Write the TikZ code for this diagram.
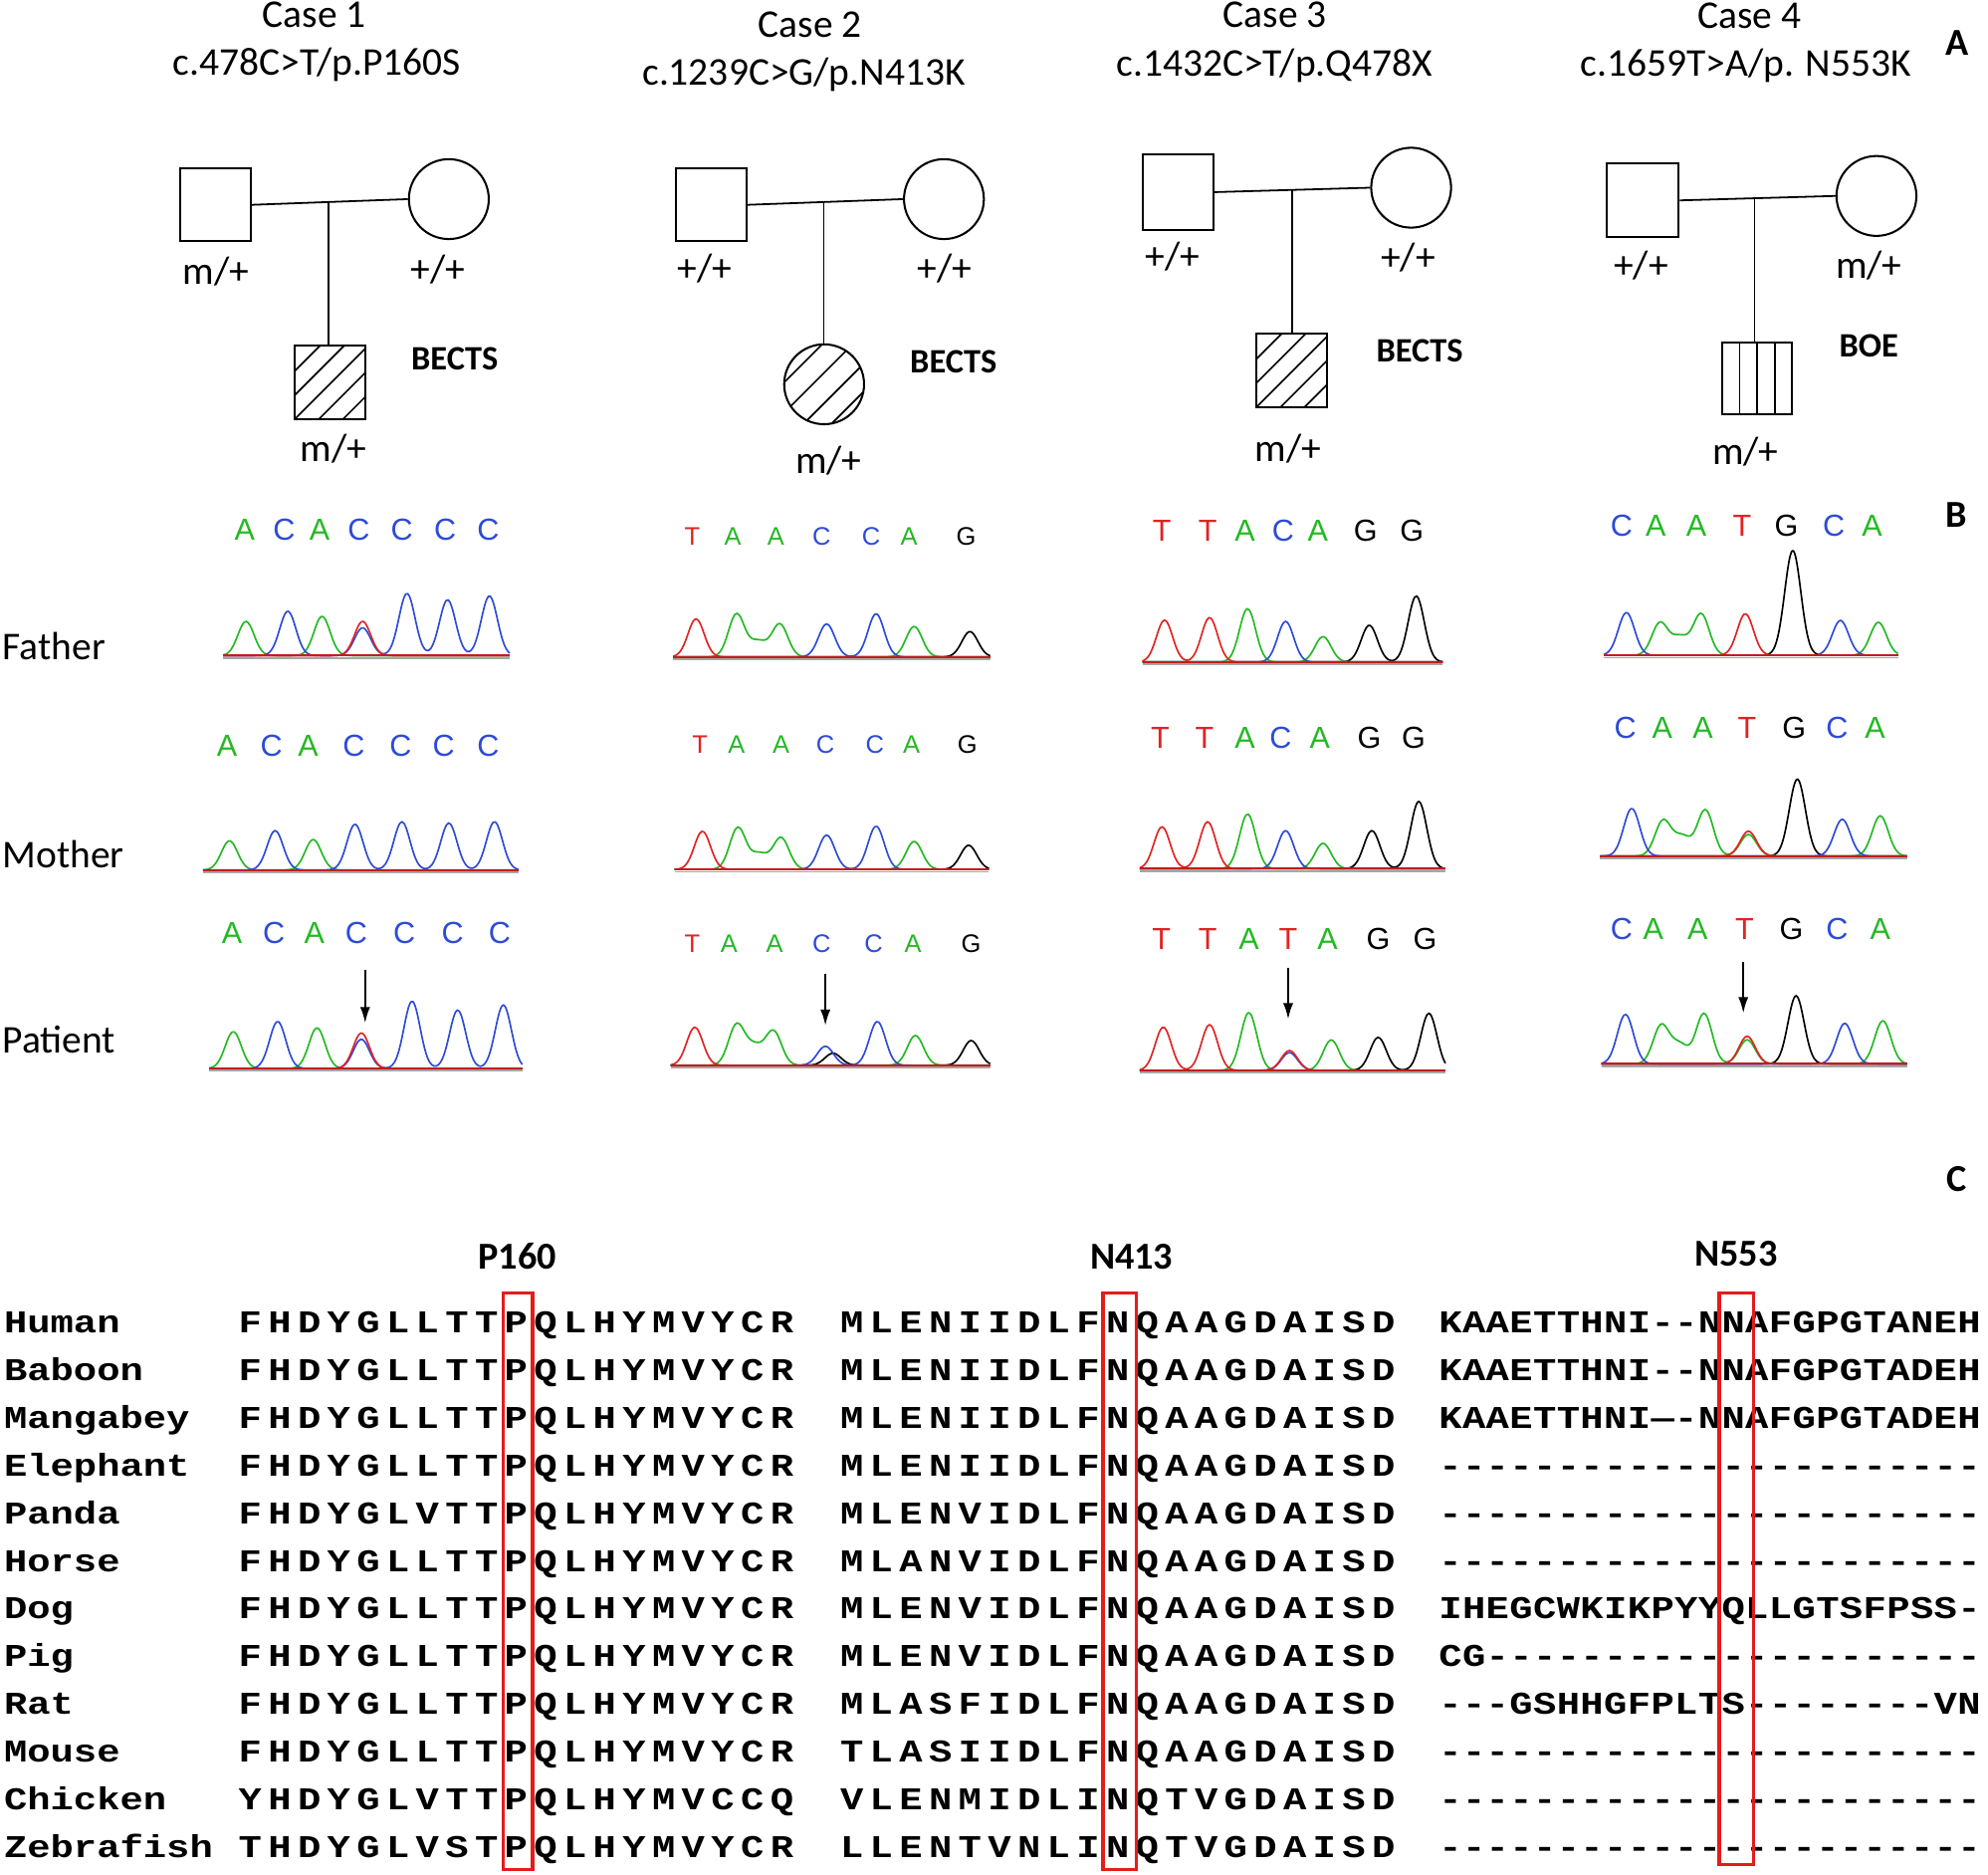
\documentclass[tikz,border=0pt]{standalone}
\usepackage{fontspec}
\setmainfont{Carlito}
\newfontfamily\seqfont{Liberation Mono}[FakeStretch=1.22]
\newfontfamily\basefont{Liberation Sans}
\usetikzlibrary{arrows.meta,calc}
\definecolor{colA}{RGB}{35,185,35}
\definecolor{colC}{RGB}{45,75,215}
\definecolor{colT}{RGB}{225,35,35}
\definecolor{colG}{RGB}{0,0,0}
\definecolor{boxred}{RGB}{228,28,28}
\makeatletter
\newcommand\seqrow[2]{\def\sq@pitch{#1}\edef\sq@tmp{#2}\expandafter\sq@loop\sq@tmp\@nil}
\def\sq@loop#1{\ifx#1\@nil\else\makebox[\sq@pitch pt][c]{#1}\expandafter\sq@loop\fi}
\makeatother
\newcommand\trace[5]{\draw[tr,#1] plot[smooth,samples=150,domain=#2:#3] (\x,{#4-(#5)});}
\newcommand\tbase[3]{\draw[line width=1.3pt, black!35] (#1,#3+1.8) -- (#2,#3+1.8);\draw[line width=1.6pt, colT!85!black] (#1,#3) -- (#2,#3);}
\begin{document}
\begin{tikzpicture}[x=1pt,y=-1pt,
  declare function={pk(\qa,\qb,\qc)=\qc*exp(-min(((\qa-\qb)/9)^2,9));},
  lbl/.style={font=\fontsize{31}{36}\selectfont, inner sep=0pt, anchor=base},
  blbl/.style={font=\fontsize{27}{32}\selectfont\bfseries, inner sep=0pt, anchor=base},
  panel/.style={font=\fontsize{30}{36}\selectfont\bfseries, inner sep=0pt, anchor=base},
  sq/.style={draw, line width=1.6pt, minimum width=56pt, minimum height=57pt, inner sep=0pt},
  cs/.style={draw, circle, line width=1.6pt, minimum size=63pt, inner sep=0pt},
  link/.style={line width=1.4pt},
  hatch/.style={path picture={\foreach \k in {#1}
     \draw[line width=1.3pt] ($(path picture bounding box.north west)+(\k,0)$) -- ++(-140,140);}},
  vstripe/.style={path picture={\foreach \k in {14,28,42}
     \draw[line width=1.3pt] ($(path picture bounding box.north west)+(\k,0)$) -- ++(0,80);}},
  tr/.style={line width=1.3pt},
  bl/.style={font=\basefont\fontsize{24}{24}\selectfont, inner sep=0pt, anchor=base},
  bls/.style={font=\basefont\fontsize{20}{20}\selectfont, inner sep=0pt, anchor=base},
  arr/.style={line width=2pt, -{Latex[length=13pt,width=8pt]}},
  rbox/.style={draw=boxred, line width=2.6pt},
  seq/.style={font=\seqfont\bfseries\fontsize{25}{25}\selectfont, inner sep=0pt, anchor=base west},
  hdr/.style={font=\fontsize{30}{36}\selectfont\bfseries, inner sep=0pt, anchor=base}
]
\useasboundingbox (0,0) rectangle (1568,1478);

% ---------------- A: titles ----------------
\node[lbl] (t1a) at (248,21.5) {Case 1};
\node[lbl] (t1b) at (250,59) {c.478C>T/p.P160S};
\node[lbl] (t2a) at (639,29.3) {Case 2};
\node[lbl] (t2b) at (634,67.5) {c.1239C>G/p.N413K};
\node[lbl] (t3a) at (1005.5,21.5) {Case 3};
\node[lbl] (t3b) at (1005,59.7) {c.1432C>T/p.Q478X};
\node[lbl] (t4a) at (1380,22.3) {Case 4};
\node[lbl] (t4b) at (1377,60.2) {c.1659T>A/p. N553K};
\node[panel] (pA) at (1544,43.2) {A};

% ---------------- pedigrees ----------------
% case 1
\node[sq] (f1) at (170,161.5) {};
\node[cs] (m1) at (354,157) {};
\draw[link] (f1.east) -- coordinate[pos=0.49] (j1) (m1.west);
\node[sq, minimum height=58pt, hatch={20,39,58,77,96}] (c1) at (260.5,301.5) {};
\draw[link] (j1) -- (j1 |- c1.north);
\node[lbl] (g1f) at (170.3,223.8) {m/+};
\node[lbl] (g1m) at (345.5,222.5) {+/+};
\node[blbl] (d1) at (358.6,291.5) {BECTS};
\node[lbl] (g1c) at (263,363.8) {m/+};
% case 2
\node[sq] (f2) at (561,161.5) {};
\node[cs] (m2) at (744.5,157) {};
\draw[link] (f2.east) -- coordinate[pos=0.49] (j2) (m2.west);
\node[cs, hatch={30,54,78,100}] (c2) at (650,303) {};
\draw[link] (j2) -- (j2 |- c2.north);
\node[lbl] (g2f) at (555.8,222) {+/+};
\node[lbl] (g2m) at (745,222) {+/+};
\node[blbl] (d2) at (752,294) {BECTS};
\node[lbl] (g2c) at (653.5,373) {m/+};
% case 3
\node[sq, minimum height=59pt] (f3) at (929,151.5) {};
\node[cs] (m3) at (1113,148) {};
\draw[link] (f3.east) -- coordinate[pos=0.5] (j3) (m3.west);
\node[sq, minimum height=58pt, hatch={20,39,58,77,96}] (c3) at (1019,292) {};
\draw[link] (j3) -- (j3 |- c3.north);
\node[lbl] (g3f) at (925,212) {+/+};
\node[lbl] (g3m) at (1110.6,213.3) {+/+};
\node[blbl] (d3) at (1119.7,285.5) {BECTS};
\node[lbl] (g3c) at (1015.8,363.8) {m/+};
% case 4
\node[sq, minimum width=57pt, minimum height=58pt] (f4) at (1295.5,158) {};
\node[cs] (m4) at (1480,154.5) {};
\draw[link] (f4.east) -- coordinate[pos=0.48] (j4) (m4.west);
\node[sq, minimum width=55pt, minimum height=57pt, vstripe] (c4) at (1385.5,298.5) {};
\draw[link] (j4) -- (j4 |- c4.north);
\node[lbl] (g4f) at (1294.3,219.3) {+/+};
\node[lbl] (g4m) at (1474,219.3) {m/+};
\node[blbl] (d4) at (1474,281.4) {BOE};
\node[lbl] (g4c) at (1376.7,366.4) {m/+};

% ---------------- B ----------------
\node[panel] (pB) at (1543,415.7) {B};
\node[lbl, anchor=base west] (rF) at (2,520) {Father};
\node[lbl, anchor=base west] (rM) at (2,684.5) {Mother};
\node[lbl, anchor=base west] (rP) at (2,830.5) {Patient};

% letters
\foreach \L/\px [count=\k] in {A/193,C/224,A/252,C/283,C/317,C/351,C/385}
  \node[bl, text=col\L] (l1f\k) at (\px,426) {\L};
\foreach \L/\px [count=\k] in {A/179,C/214,A/243,C/279,C/316,C/350,C/385}
  \node[bl, text=col\L] (l1m\k) at (\px,596) {\L};
\foreach \L/\px [count=\k] in {A/183,C/216,A/248,C/281,C/319,C/357,C/394}
  \node[bl, text=col\L] (l1p\k) at (\px,744) {\L};
\foreach \L/\px [count=\k] in {T/546,A/578,A/612,C/648,C/687,A/717,G/762}
  \node[bls, text=col\L] (l2f\k) at (\px,430) {\L};
\foreach \L/\px [count=\k] in {T/552,A/581,A/616,C/651,C/690,A/719,G/763}
  \node[bls, text=col\L] (l2m\k) at (\px,594) {\L};
\foreach \L/\px [count=\k] in {T/546,A/575,A/611,C/648,C/689,A/720,G/766}
  \node[bls, text=col\L] (l2p\k) at (\px,751) {\L};
\foreach \L/\px [count=\k] in {T/916.5,T/952.5,A/982,C/1012,A/1039.5,G/1077,G/1113.5}
  \node[bl, text=col\L] (l3f\k) at (\px,427) {\L};
\foreach \L/\px [count=\k] in {T/915,T/950,A/982,C/1010,A/1041,G/1080,G/1115}
  \node[bl, text=col\L] (l3m\k) at (\px,590) {\L};
\foreach \L/\px [count=\k] in {T/916,T/952.5,A/985,T/1016,A/1047,G/1087,G/1124}
  \node[bl, text=col\L] (l3p\k) at (\px,748.5) {\L};
\foreach \L/\px [count=\k] in {C/1279,A/1306,A/1338,T/1374,G/1409,C/1446.5,A/1476.5}
  \node[bl, text=col\L] (l4f\k) at (\px,423) {\L};
\foreach \L/\px [count=\k] in {C/1282,A/1311,A/1343,T/1378,G/1415,C/1449,A/1479}
  \node[bl, text=col\L] (l4m\k) at (\px,582.5) {\L};
\foreach \L/\px [count=\k] in {C/1279,A/1304,A/1339,T/1376,G/1413,C/1449,A/1483}
  \node[bl, text=col\L] (l4p\k) at (\px,741) {\L};

% traces case 1
\trace{colA}{176}{402}{517}{pk(\x,194,27)+pk(\x,254,31)}
\trace{colC}{176}{402}{517}{pk(\x,227,35)+pk(\x,286,22)+pk(\x,321,49)+pk(\x,353,44)+pk(\x,386,47)}
\trace{colT}{176}{402}{517}{pk(\x,286,27)}
\tbase{176}{402}{517}
\trace{colA}{160}{409}{686}{pk(\x,181,23)+pk(\x,247,24)}
\trace{colC}{160}{409}{686}{pk(\x,217,31)+pk(\x,280,36)+pk(\x,317,38)+pk(\x,354,37)+pk(\x,390,38)}
\tbase{160}{409}{686}
\trace{colA}{165}{412}{842.5}{pk(\x,184,29)+pk(\x,250,32)}
\trace{colC}{165}{412}{842.5}{pk(\x,219,37)+pk(\x,285,23)+pk(\x,325,53)+pk(\x,361,46)+pk(\x,397,50)}
\trace{colT}{165}{412}{842.5}{pk(\x,285,28)}
\tbase{165}{412}{842.5}
% traces case 2
\trace{colG}{531}{781}{518}{pk(\x,765,20)}
\trace{colA}{531}{781}{518}{pk(\x,581,34)+pk(\x,598,12)+pk(\x,615,26)+pk(\x,721,24)}
\trace{colC}{531}{781}{518}{pk(\x,652,26)+pk(\x,691,34)}
\trace{colT}{531}{781}{518}{pk(\x,549,30)}
\tbase{531}{781}{518}
\trace{colG}{532}{780}{685.5}{pk(\x,764,19)}
\trace{colA}{532}{780}{685.5}{pk(\x,582,33)+pk(\x,599,12)+pk(\x,616,25)+pk(\x,721,22)}
\trace{colC}{532}{780}{685.5}{pk(\x,652,27)+pk(\x,691,34)}
\trace{colT}{532}{780}{685.5}{pk(\x,554,30)}
\tbase{532}{780}{685.5}
\trace{colG}{529}{781}{840}{pk(\x,657,9.5)+pk(\x,766,19.5)}
\trace{colA}{529}{781}{840}{pk(\x,581,32)+pk(\x,595,14)+pk(\x,610,27)+pk(\x,722,23.5)}
\trace{colC}{529}{781}{840}{pk(\x,651,15)+pk(\x,692,34.5)}
\trace{colT}{529}{781}{840}{pk(\x,548,30)}
\tbase{529}{781}{840}
% traces case 3
\trace{colG}{901}{1138}{522}{pk(\x,1080,29)+pk(\x,1117,52)}
\trace{colA}{901}{1138}{522}{pk(\x,984,42)+pk(\x,1043.5,20)}
\trace{colC}{901}{1138}{522}{pk(\x,1014,32)}
\trace{colT}{901}{1138}{522}{pk(\x,918.5,33)+pk(\x,954,35)}
\tbase{901}{1138}{522}
\trace{colG}{899}{1140}{685}{pk(\x,1082,30)+pk(\x,1119,53)}
\trace{colA}{899}{1140}{685}{pk(\x,984,43)+pk(\x,1043.5,20)}
\trace{colC}{899}{1140}{685}{pk(\x,1014,30)}
\trace{colT}{899}{1140}{685}{pk(\x,916.5,33)+pk(\x,952.5,37)}
\tbase{899}{1140}{685}
\trace{colG}{899}{1140}{844}{pk(\x,1087,26)+pk(\x,1127,45)}
\trace{colA}{899}{1140}{844}{pk(\x,985,45.5)+pk(\x,1050,24)}
\trace{colC}{899}{1140}{844}{pk(\x,1017,14)}
\trace{colT}{899}{1140}{844}{pk(\x,917.5,34)+pk(\x,954,36)+pk(\x,1017,15.6)}
\tbase{899}{1140}{844}
% traces case 4
\trace{colG}{1265}{1497}{516.7}{pk(\x,1414,82.6)}
\trace{colA}{1265}{1497}{516.7}{pk(\x,1309.3,25.7)+pk(\x,1325,14)+pk(\x,1341.7,32.7)+pk(\x,1481.5,26)}
\trace{colC}{1265}{1497}{516.7}{pk(\x,1282.8,33.7)+pk(\x,1451.6,27.5)}
\trace{colT}{1265}{1497}{516.7}{pk(\x,1376.6,32.7)}
\tbase{1265}{1497}{516.7}
\trace{colG}{1262}{1504}{675}{pk(\x,1417.6,60.6)}
\trace{colA}{1262}{1504}{675}{pk(\x,1311.8,28)+pk(\x,1327,15)+pk(\x,1345,36.4)+pk(\x,1379,17)+pk(\x,1483,31.7)}
\trace{colC}{1262}{1504}{675}{pk(\x,1287,37.5)+pk(\x,1453,29)}
\trace{colT}{1262}{1504}{675}{pk(\x,1379,19.6)}
\tbase{1262}{1504}{675}
\trace{colG}{1263}{1504}{838.9}{pk(\x,1416.6,53.7)}
\trace{colA}{1263}{1504}{838.9}{pk(\x,1310.3,30.5)+pk(\x,1325,15)+pk(\x,1344,39.8)+pk(\x,1378,19)+pk(\x,1485,34)}
\trace{colC}{1263}{1504}{838.9}{pk(\x,1282,39)+pk(\x,1455,32)}
\trace{colT}{1263}{1504}{838.9}{pk(\x,1378,21.8)}
\tbase{1263}{1504}{838.9}

% arrows
\coordinate (a1s) at (288,765); \coordinate (a1e) at (288,807);
\coordinate (a2s) at (651,768); \coordinate (a2e) at (651,809);
\coordinate (a3s) at (1016,763.5); \coordinate (a3e) at (1016,804);
\coordinate (a4s) at (1375,758.8); \coordinate (a4e) at (1375,799.2);
\draw[arr] (a1s) -- (a1e);
\draw[arr] (a2s) -- (a2e);
\draw[arr] (a3s) -- (a3e);
\draw[arr] (a4s) -- (a4e);

% ---------------- C ----------------
\node[panel] (pC) at (1543,939.6) {C};
\node[hdr] (h1) at (408,1001) {P160};
\node[hdr] (h2) at (892.5,1001) {N413};
\node[hdr] (h3) at (1369.2,998.3) {N553};

\foreach \nm/\sa/\sb/\sc [count=\i from 0] in {
 Human/FHDYGLLTTPQLHYMVYCR/MLENIIDLFNQAAGDAISD/KAAETTHNI--NNAFGPGTANEH,
 Baboon/FHDYGLLTTPQLHYMVYCR/MLENIIDLFNQAAGDAISD/KAAETTHNI--NNAFGPGTADEH,
 Mangabey/FHDYGLLTTPQLHYMVYCR/MLENIIDLFNQAAGDAISD/KAAETTHNI—-NNAFGPGTADEH,
 Elephant/FHDYGLLTTPQLHYMVYCR/MLENIIDLFNQAAGDAISD/-----------------------,
 Panda/FHDYGLVTTPQLHYMVYCR/MLENVIDLFNQAAGDAISD/-----------------------,
 Horse/FHDYGLLTTPQLHYMVYCR/MLANVIDLFNQAAGDAISD/-----------------------,
 Dog/FHDYGLLTTPQLHYMVYCR/MLENVIDLFNQAAGDAISD/IHEGCWKIKPYYQLLGTSFPSS-,
 Pig/FHDYGLLTTPQLHYMVYCR/MLENVIDLFNQAAGDAISD/CG---------------------,
 Rat/FHDYGLLTTPQLHYMVYCR/MLASFIDLFNQAAGDAISD/---GSHHGFPLTS--------VN,
 Mouse/FHDYGLLTTPQLHYMVYCR/TLASIIDLFNQAAGDAISD/-----------------------,
 Chicken/YHDYGLVTTPQLHYMVCCQ/VLENMIDLINQTVGDAISD/-----------------------,
 Zebrafish/THDYGLVSTPQLHYMVYCR/LLENTVNLINQTVGDAISD/-----------------------}
{
  \pgfmathsetmacro\yy{1051+37.6*\i}
  \node[seq] (sp\i) at (3,\yy) {\nm};
  \node[seq] (sa\i) at (185.5,\yy) {\seqrow{23.3}{\sa}};
  \node[seq] (sb\i) at (660,\yy) {\seqrow{23.3}{\sb}};
  \node[seq] (sc\i) at (1134.5,\yy) {\seqrow{18.6}{\sc}};
}

\draw[rbox] (397,1019.6) rectangle (420,1474);
\draw[rbox] (870,1019.6) rectangle (896.5,1474);
\draw[rbox] (1356,1019.6) rectangle (1383,1470);
\end{tikzpicture}
\end{document}
